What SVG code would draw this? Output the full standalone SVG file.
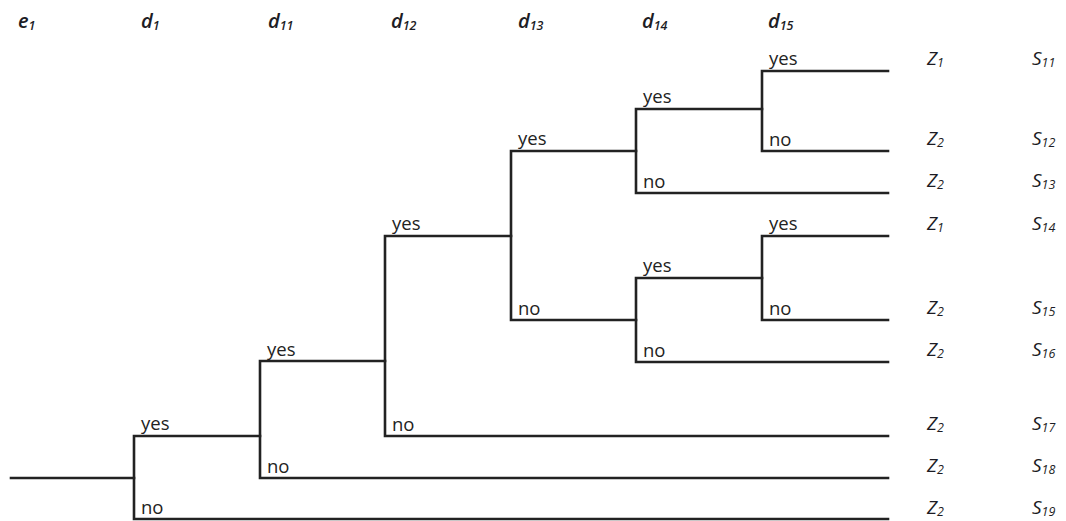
<svg xmlns="http://www.w3.org/2000/svg" width="1066" height="521" viewBox="0 0 1066 521">
<style>
.ln{fill:none;stroke:#222;stroke-width:2.6;stroke-linecap:square}
.lb{font-family:"Open Sans",Lato,sans-serif;font-size:18.5px;fill:#222}
.hd{font-family:"Open Sans",Lato,sans-serif;font-style:italic;font-size:20px;font-weight:600;fill:#1c1c24}
.out{font-family:"Open Sans",Lato,sans-serif;font-style:italic;font-size:19px;fill:#1c1c24}
.sb{font-size:12.5px}
</style>
<rect width="1066" height="521" fill="#fff"/>
<g id="headers">
<text class="hd" x="18" y="28">e<tspan class="sb" dy="2">1</tspan></text>
<text class="hd" x="141" y="28">d<tspan class="sb" dy="2">1</tspan></text>
<text class="hd" x="268" y="28">d<tspan class="sb" dy="2">11</tspan></text>
<text class="hd" x="391" y="28">d<tspan class="sb" dy="2">12</tspan></text>
<text class="hd" x="518" y="28">d<tspan class="sb" dy="2">13</tspan></text>
<text class="hd" x="642" y="28">d<tspan class="sb" dy="2">14</tspan></text>
<text class="hd" x="768" y="28">d<tspan class="sb" dy="2">15</tspan></text>
</g>
<g id="connectors">
<path class="ln" d="M11 478H134"/>
<path class="ln" d="M260 436H134V519H888"/>
<path class="ln" d="M385 361H260V478H888"/>
<path class="ln" d="M511 236H385V436H888"/>
<path class="ln" d="M636 151H511V320H636"/>
<path class="ln" d="M762 109H636V193H888"/>
<path class="ln" d="M888 71H762V151H888"/>
<path class="ln" d="M762 278H636V362H888"/>
<path class="ln" d="M888 236H762V320H888"/>
</g>
<g id="node-d1">
<text class="lb" x="141" y="430">yes</text>
<text class="lb" x="141" y="514">no</text>
</g>
<g id="node-d11">
<text class="lb" x="267" y="356">yes</text>
<text class="lb" x="267" y="473">no</text>
</g>
<g id="node-d12">
<text class="lb" x="392" y="230">yes</text>
<text class="lb" x="392" y="431">no</text>
</g>
<g id="node-d13">
<text class="lb" x="518" y="145">yes</text>
<text class="lb" x="518" y="315">no</text>
</g>
<g id="node-d14a">
<text class="lb" x="643" y="103">yes</text>
<text class="lb" x="643" y="188">no</text>
</g>
<g id="node-d15a">
<text class="lb" x="769" y="65">yes</text>
<text class="lb" x="769" y="146">no</text>
</g>
<g id="node-d14b">
<text class="lb" x="643" y="272">yes</text>
<text class="lb" x="643" y="357">no</text>
</g>
<g id="node-d15b">
<text class="lb" x="769" y="230">yes</text>
<text class="lb" x="769" y="315">no</text>
</g>
<g id="outcomes">
<text class="out" x="927" y="65">Z<tspan class="sb" dy="2">1</tspan></text>
<text class="out" x="1032" y="65">S<tspan class="sb" dy="2">11</tspan></text>
<text class="out" x="927" y="145">Z<tspan class="sb" dy="2">2</tspan></text>
<text class="out" x="1032" y="145">S<tspan class="sb" dy="2">12</tspan></text>
<text class="out" x="927" y="187">Z<tspan class="sb" dy="2">2</tspan></text>
<text class="out" x="1032" y="187">S<tspan class="sb" dy="2">13</tspan></text>
<text class="out" x="927" y="230">Z<tspan class="sb" dy="2">1</tspan></text>
<text class="out" x="1032" y="230">S<tspan class="sb" dy="2">14</tspan></text>
<text class="out" x="927" y="314">Z<tspan class="sb" dy="2">2</tspan></text>
<text class="out" x="1032" y="314">S<tspan class="sb" dy="2">15</tspan></text>
<text class="out" x="927" y="356">Z<tspan class="sb" dy="2">2</tspan></text>
<text class="out" x="1032" y="356">S<tspan class="sb" dy="2">16</tspan></text>
<text class="out" x="927" y="430">Z<tspan class="sb" dy="2">2</tspan></text>
<text class="out" x="1032" y="430">S<tspan class="sb" dy="2">17</tspan></text>
<text class="out" x="927" y="472">Z<tspan class="sb" dy="2">2</tspan></text>
<text class="out" x="1032" y="472">S<tspan class="sb" dy="2">18</tspan></text>
<text class="out" x="927" y="514">Z<tspan class="sb" dy="2">2</tspan></text>
<text class="out" x="1032" y="514">S<tspan class="sb" dy="2">19</tspan></text>
</g>
</svg>
